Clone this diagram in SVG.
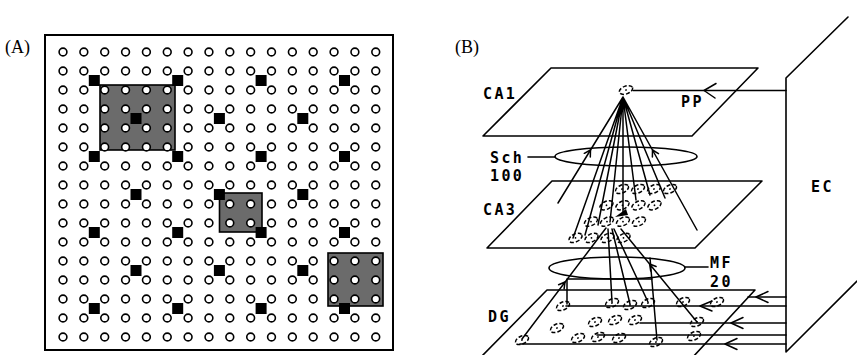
<svg xmlns="http://www.w3.org/2000/svg" width="857" height="355" viewBox="0 0 857 355">
<style>
.bg{fill:#fff}
.frame{fill:none;stroke:#000;stroke-width:2}
.gray{fill:#6b6b6b;stroke:#000;stroke-width:1.6}
.dot{fill:#fff;stroke:#000;stroke-width:1.6}
.blk{fill:#000}
.ln{fill:none;stroke:#000;stroke-width:1.6;stroke-linecap:round;stroke-linejoin:round}
.thin{fill:none;stroke:#000;stroke-width:1.5;stroke-linecap:round;stroke-linejoin:round}
.cellc{fill:none;stroke:#000;stroke-width:1.5;stroke-dasharray:4 2}
.lab{font-family:"DejaVu Sans Mono","Liberation Mono",monospace;font-weight:bold;font-size:15px;letter-spacing:2.4px;fill:#000}
.pan{font-family:"Liberation Serif","DejaVu Serif",serif;font-size:18px;fill:#000}
</style>
<defs>
<g id="dotrow">
<circle class="dot" cx="63" cy="0" r="3.9"/><circle class="dot" cx="83.85" cy="0" r="3.9"/><circle class="dot" cx="104.7" cy="0" r="3.9"/><circle class="dot" cx="125.55" cy="0" r="3.9"/><circle class="dot" cx="146.4" cy="0" r="3.9"/><circle class="dot" cx="167.25" cy="0" r="3.9"/><circle class="dot" cx="188.1" cy="0" r="3.9"/><circle class="dot" cx="208.95" cy="0" r="3.9"/><circle class="dot" cx="229.8" cy="0" r="3.9"/><circle class="dot" cx="250.65" cy="0" r="3.9"/><circle class="dot" cx="271.5" cy="0" r="3.9"/><circle class="dot" cx="292.35" cy="0" r="3.9"/><circle class="dot" cx="313.2" cy="0" r="3.9"/><circle class="dot" cx="334.05" cy="0" r="3.9"/><circle class="dot" cx="354.9" cy="0" r="3.9"/><circle class="dot" cx="375.75" cy="0" r="3.9"/>
</g>
<g id="cell"><ellipse class="cellc" cx="0" cy="0" rx="7" ry="3.9"/><circle cx="0" cy="0" r="0.9" fill="#000"/></g>
</defs>
<rect class="bg" x="0" y="0" width="857" height="355"/>

<g id="panelA">
<text class="pan" x="5" y="53">(A)</text>
<rect class="frame" x="45" y="35" width="348" height="315"/>
<rect class="gray" x="100" y="85" width="75" height="65"/>
<rect class="gray" x="219.5" y="193" width="42.5" height="39"/>
<rect class="gray" x="328" y="253" width="55" height="53"/>
<use href="#dotrow" y="52"/><use href="#dotrow" y="71"/><use href="#dotrow" y="90"/><use href="#dotrow" y="109"/>
<use href="#dotrow" y="128"/><use href="#dotrow" y="147"/><use href="#dotrow" y="166"/><use href="#dotrow" y="185"/>
<use href="#dotrow" y="204"/><use href="#dotrow" y="223"/><use href="#dotrow" y="242"/><use href="#dotrow" y="261"/>
<use href="#dotrow" y="280"/><use href="#dotrow" y="299"/><use href="#dotrow" y="318"/><use href="#dotrow" y="337"/>
<g id="squares">
<rect class="blk" x="88.8" y="75" width="11" height="11"/><rect class="blk" x="172.2" y="75" width="11" height="11"/><rect class="blk" x="255.6" y="75" width="11" height="11"/><rect class="blk" x="339" y="75" width="11" height="11"/>
<rect class="blk" x="88.8" y="151" width="11" height="11"/><rect class="blk" x="172.2" y="151" width="11" height="11"/><rect class="blk" x="255.6" y="151" width="11" height="11"/><rect class="blk" x="339" y="151" width="11" height="11"/>
<rect class="blk" x="88.8" y="227" width="11" height="11"/><rect class="blk" x="172.2" y="227" width="11" height="11"/><rect class="blk" x="255.6" y="227" width="11" height="11"/><rect class="blk" x="339" y="227" width="11" height="11"/>
<rect class="blk" x="88.8" y="303" width="11" height="11"/><rect class="blk" x="172.2" y="303" width="11" height="11"/><rect class="blk" x="255.6" y="303" width="11" height="11"/><rect class="blk" x="339" y="303" width="11" height="11"/>
<rect class="blk" x="130.5" y="113" width="11" height="11"/><rect class="blk" x="213.9" y="113" width="11" height="11"/><rect class="blk" x="297.3" y="113" width="11" height="11"/>
<rect class="blk" x="130.5" y="189" width="11" height="11"/><rect class="blk" x="213.9" y="189" width="11" height="11"/><rect class="blk" x="297.3" y="189" width="11" height="11"/>
<rect class="blk" x="130.5" y="265" width="11" height="11"/><rect class="blk" x="213.9" y="265" width="11" height="11"/><rect class="blk" x="297.3" y="265" width="11" height="11"/>
</g>
</g>

<text class="pan" x="455" y="53">(B)</text>

<g id="CA1">
<polygon class="ln" points="551,68 758,68 692,136 483,136"/>
<text class="lab" x="483" y="99">CA1</text>
<use href="#cell" transform="translate(626,90) rotate(-20)"/>
</g>

<g id="Sch">
<ellipse class="ln" cx="626" cy="156.5" rx="71" ry="9.5"/>
<line class="ln" x1="528" y1="157" x2="555" y2="157"/>
<text class="lab" x="490" y="163">Sch</text>
<text class="lab" x="490" y="181">100</text>
</g>

<g id="CA3">
<polygon class="ln" points="552,181 762,181 695,248 487,248"/>
<text class="lab" x="483" y="215">CA3</text>
<use href="#cell" transform="translate(622,189) rotate(-25)"/><use href="#cell" transform="translate(638,189) rotate(-25)"/><use href="#cell" transform="translate(654,189) rotate(-25)"/><use href="#cell" transform="translate(670,189) rotate(-25)"/>
<use href="#cell" transform="translate(606.5,205.3) rotate(-25)"/><use href="#cell" transform="translate(622.5,205.3) rotate(-25)"/><use href="#cell" transform="translate(638.5,205.3) rotate(-25)"/><use href="#cell" transform="translate(654.5,205.3) rotate(-25)"/>
<use href="#cell" transform="translate(591,221.6) rotate(-25)"/><use href="#cell" transform="translate(607,221.6) rotate(-25)"/><use href="#cell" transform="translate(623,221.6) rotate(-25)"/><use href="#cell" transform="translate(639,221.6) rotate(-25)"/>
<use href="#cell" transform="translate(575.5,237.9) rotate(-25)"/><use href="#cell" transform="translate(591.5,237.9) rotate(-25)"/><use href="#cell" transform="translate(607.5,237.9) rotate(-25)"/><use href="#cell" transform="translate(623.5,237.9) rotate(-25)"/>
</g>

<g id="MF">
<ellipse class="ln" cx="617" cy="268" rx="68" ry="11"/>
<line class="ln" x1="685" y1="267" x2="708" y2="267"/>
<text class="lab" x="710" y="268">MF</text>
<text class="lab" x="710" y="287">20</text>
</g>

<g id="DG">
<polygon class="ln" points="547,290 755,290 692,358 480,358"/>
<text class="lab" x="488" y="322">DG</text>
<use href="#cell" transform="translate(563,306) rotate(-25)"/><use href="#cell" transform="translate(612,303) rotate(-25)"/><use href="#cell" transform="translate(630,305) rotate(-25)"/><use href="#cell" transform="translate(648,303) rotate(-25)"/><use href="#cell" transform="translate(683,302) rotate(-25)"/><use href="#cell" transform="translate(717,302) rotate(-25)"/>
<use href="#cell" transform="translate(557,328) rotate(-25)"/><use href="#cell" transform="translate(595,322) rotate(-25)"/><use href="#cell" transform="translate(615,320) rotate(-25)"/><use href="#cell" transform="translate(635,320) rotate(-25)"/><use href="#cell" transform="translate(697,322) rotate(-25)"/>
<use href="#cell" transform="translate(522,340) rotate(-25)"/><use href="#cell" transform="translate(578,338) rotate(-25)"/><use href="#cell" transform="translate(598,337) rotate(-25)"/><use href="#cell" transform="translate(619,338) rotate(-25)"/><use href="#cell" transform="translate(656,342) rotate(-25)"/><use href="#cell" transform="translate(694,336) rotate(-25)"/>
</g>

<g id="EC">
<path class="ln" d="M848,17 L786,78 L786,352 L857,281"/>
<text class="lab" x="811" y="192">EC</text>
</g>

<g id="PP">
<text class="lab" x="681" y="107">PP</text>
</g>

<g id="connectors">
<path class="ln" d="M633,90.5 H786"/>
<path class="thin" d="M716,83.5 L704,90.5 L715,98"/>
<path class="thin" d="M623,97 L558,203 M623,97 L573,238 M623,97 L585,235 M623,97 L598,225 M623,97 L610,222 M623,97 L623,212 M623,97 L636,200 M623,97 L650,195 M623,97 L665,198 M623,97 L697,230"/>
<path class="thin" d="M584.3,153.3 L590.5,150 L590.3,157"/>
<path class="thin" d="M652.4,157 L652.5,150 L658.5,153.6"/>
<polygon class="blk" points="615,217 626,209 628,215"/>
<path class="thin" d="M522,339 L606,228 M612,302 L608,229 M630,304 L612,229 M648,302 L614,229 M657,340 L650,258 M697,322 L621,229"/>
<path class="thin" d="M567,279 V304 M567,279 H652"/>
<path class="thin" d="M558.6,284.7 L565,282 L564.1,288.9"/>
<path class="thin" d="M650.7,270.9 L649.6,264 L656.1,266.5"/>
<path class="ln" d="M748,297 H786 M566,306 H786 M640,323 H786 M597,335 H786 M520,344 H786"/>
<path class="thin" d="M768,291.5 L756,297 L768,302.5"/>
<path class="thin" d="M712,301 L700,306 L712,311"/>
<path class="thin" d="M743,317.5 L731,323 L743,328.5"/>
<path class="thin" d="M737,338.5 L725,344 L737,349.5"/>
</g>
</svg>
